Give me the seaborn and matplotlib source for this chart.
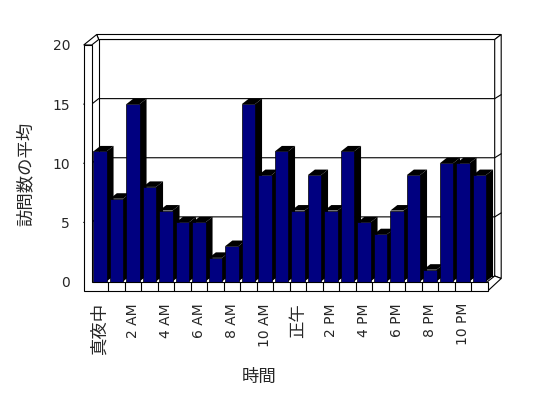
import matplotlib
matplotlib.use("Agg")
import matplotlib.pyplot as plt
from matplotlib.patches import Polygon
import pandas as pd
import seaborn as sns

# average visits per hour of day
hours = list(range(24))
visits = [11, 7, 15, 8, 6, 5, 5, 2, 3, 15, 9, 11, 6, 9, 6, 11, 5, 4, 6, 9, 1, 10, 10, 9]
tick_hours = list(range(0, 24, 2))
tick_labels = ["真夜中", "2 AM", "4 AM", "6 AM", "8 AM", "10 AM",
               "正午", "2 PM", "4 PM", "6 PM", "8 PM", "10 PM"]
y_ticks = [0, 5, 10, 15, 20]

df = pd.DataFrame({"hour": hours, "visits": visits})

sns.set_style("white")
plt.rcParams["font.family"] = ["DejaVu Sans", "Noto Sans CJK JP"]

W, H = 548, 398
fig = plt.figure(figsize=(W / 100, H / 100), dpi=100)
# front plane of the fake 3D box, in pixels
left, right, base, top = 91.7, 487.7, 281.5, 45.0
ax = fig.add_axes([left / W, 1 - base / H, (right - left) / W, (base - top) / H])

sns.barplot(data=df, x="hour", y="visits", color="#000080", saturation=1,
            width=0.8, edgecolor="black", linewidth=0.5, ax=ax, zorder=3)
ax.set_xlim(-0.5, 23.5)
ax.set_ylim(0, 20)

px_x = (right - left) / 24
px_y = (base - top) / 20


def pt(x, y, ox=0.0, oy=0.0):
    # data point shifted by a pixel offset (depth of the 3D look)
    return (x + ox / px_x, y + oy / px_y)


def face(points, fc="white", ec="black", lw=0.8, z=0.5):
    ax.add_patch(Polygon([pt(*p) for p in points], closed=True, fc=fc, ec=ec,
                         lw=lw, zorder=z, clip_on=False, joinstyle="miter"))


def line(points, z=0.6):
    xy = [pt(*p) for p in points]
    ax.plot([p[0] for p in xy], [p[1] for p in xy], color="black", lw=0.8,
            zorder=z, clip_on=False)


x0, x1 = -0.5, 23.5
dx, dy = 7, 5.5      # back wall depth
ox, oy = 13.5, 10.5  # outer edge of the walls
fl = 9.5             # floor thickness

# back wall and its slab edges
face([(x0, 0, dx, dy), (x1, 0, dx, dy), (x1, 20, dx, dy), (x0, 20, dx, dy)])
face([(x0, 20, dx, dy), (x1, 20, dx, dy), (x1, 20, ox, oy), (x0, 20, 5, oy)])
face([(x1, 20, dx, dy), (x1, 20, ox, oy), (x1, 0, ox, 3), (x1, 0, dx, dy)])
# left wall top
face([(x0, 20, -8, 0), (x0, 20, 0, 0), (x0, 20, dx, dy), (x0, 20, 5, oy)])
# floor right side
face([(x1, 0, 0, -fl), (x1, 0, 0, 0), (x1, 0, dx, dy), (x1, 0, ox, 3)])

for v in y_ticks[1:-1]:
    line([(x0, v, -8, 0), (x0, v, 0, 0), (x0, v, dx, dy), (x1, v, dx, dy), (x1, v, ox, oy - 1)])

# bar sides and tops
for h, v in zip(hours, visits):
    face([(h + 0.4, 0), (h + 0.4, v), (h + 0.4, v, dx, dy), (h + 0.4, 0, dx, dy)],
         fc="black", ec="none", lw=0, z=2)
    face([(h - 0.4, v), (h + 0.4, v), (h + 0.4, v, dx, dy), (h - 0.4, v, dx, dy)],
         fc="black", ec="none", lw=0, z=2)

# left wall front and floor front (one L-shaped face)
face([(x0, 20, -8, 0), (x0, 20, 0, 0), (x0, 0, 0, 0), (x1, 0, 0, 0),
      (x1, 0, 0, -fl), (x0, 0, -8, -fl)], z=4)
for h in hours[:-1]:
    line([(h + 0.5, 0, 0, -fl), (h + 0.5, 0, 0, 0)], z=4.5)

for s in ax.spines.values():
    s.set_visible(False)
ax.grid(False)
ax.set_yticks(y_ticks)
ax.set_xticks(tick_hours, tick_labels, rotation=90)
ax.tick_params(axis="y", length=0, pad=15.6, labelsize=10)
ax.tick_params(axis="x", length=0, pad=15.5, labelsize=10)
for t in ax.get_xticklabels():
    if not t.get_text().isascii():
        t.set_fontsize(12.5)

ax.set_xlabel("時間", fontsize=12.5)
ax.xaxis.label.set_va("center")
ax.xaxis.set_label_coords((259 - left) / (right - left), (base - 377) / (base - top))
ax.set_ylabel("訪問数の平均", fontsize=12.5)
ax.yaxis.label.set_va("center")
ax.yaxis.set_label_coords((26 - left) / (right - left), (base - 174) / (base - top))

fig.savefig("out.png", dpi=100)
